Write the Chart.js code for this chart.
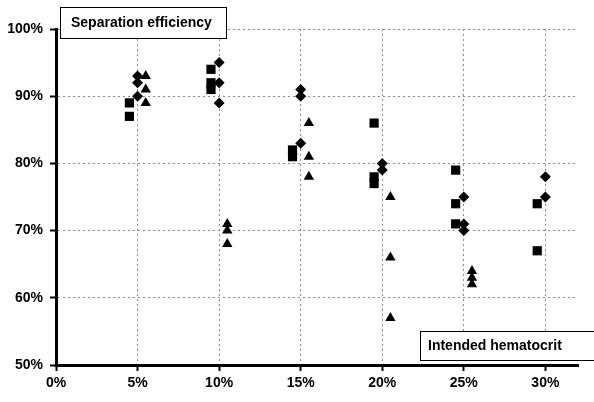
<!DOCTYPE html>
<html>
<head>
<meta charset="utf-8">
<script src="https://cdn.jsdelivr.net/npm/chart.js@4/dist/chart.umd.min.js"></script>
<style>
  html, body { margin: 0; padding: 0; background: #fff; }
  #wrap { width: 594px; height: 402px; position: relative; }
</style>
</head>
<body>
<div id="wrap"><canvas id="c" width="594" height="402"></canvas></div>
<script>
// Intended hematocrit (%) groups and separation efficiency (%) values
const squaresX = [4.5, 4.5, 9.5, 9.5, 9.5, 14.5, 14.5, 19.5, 19.5, 19.5, 24.5, 24.5, 24.5, 29.5, 29.5];
const squaresY = [89, 87, 94, 92, 91, 82, 81, 86, 78, 77, 79, 74, 71, 74, 67];
const diamondsX = [5, 5, 5, 10, 10, 10, 15, 15, 15, 20, 20, 25, 25, 25, 30, 30];
const diamondsY = [93, 92, 90, 95, 92, 89, 91, 90, 83, 80, 79, 75, 71, 70, 78, 75];
const trianglesX = [5.5, 5.5, 5.5, 10.5, 10.5, 10.5, 15.5, 15.5, 15.5, 20.5, 20.5, 20.5, 25.5, 25.5, 25.5];
const trianglesY = [93, 91, 89, 71, 70, 68, 86, 81, 78, 75, 66, 57, 64, 63, 62];
const xTicks = [0, 5, 10, 15, 20, 25, 30];
const yTicks = [50, 60, 70, 80, 90, 100];
const yTitle = 'Separation efficiency';
const xTitle = 'Intended hematocrit';

function pts(xs, ys) { return xs.map((x, i) => ({ x: x, y: ys[i] })); }

const FONT = '"Liberation Sans", Arial, Helvetica, sans-serif';

const boxPlugin = {
  id: 'boxes',
  afterDraw(chart) {
    const ctx = chart.ctx;
    ctx.save();
    ctx.font = 'bold 14px ' + FONT;
    ctx.textBaseline = 'middle';
    ctx.textAlign = 'left';
    function box(x, y, w, h, text, tx) {
      ctx.fillStyle = '#fff';
      ctx.fillRect(x, y, w, h);
      ctx.strokeStyle = '#000';
      ctx.lineWidth = 1;
      ctx.strokeRect(x + 0.5, y + 0.5, w, h);
      ctx.fillStyle = '#000';
      ctx.fillText(text, tx, y + h / 2 + 1);
    }
    box(60, 7, 166, 31, yTitle, 71);
    box(420, 331, 180, 29, xTitle, 428);
    ctx.restore();
  }
};

new Chart(document.getElementById('c'), {
  type: 'scatter',
  data: {
    datasets: [
      { label: 'squares', data: pts(squaresX, squaresY), pointStyle: 'rect', pointRadius: 6.5,
        backgroundColor: '#000', borderColor: '#000', borderWidth: 0 },
      { label: 'diamonds', data: pts(diamondsX, diamondsY), pointStyle: 'rectRot', pointRadius: 5.5,
        backgroundColor: '#000', borderColor: '#000', borderWidth: 0 },
      { label: 'triangles', data: pts(trianglesX, trianglesY), pointStyle: 'triangle', pointRadius: 6,
        backgroundColor: '#000', borderColor: '#000', borderWidth: 0 }
    ]
  },
  options: {
    responsive: false,
    animation: false,
    layout: { padding: { top: 29, right: 16, left: 0, bottom: 0 } },
    plugins: { legend: { display: false }, tooltip: { enabled: false } },
    scales: {
      x: {
        type: 'linear', min: 0, max: 32,
        afterBuildTicks(s) { s.ticks = xTicks.map(v => ({ value: v })); },
        afterFit(s) { s.height = 37; },
        ticks: { color: '#000', padding: 4, maxRotation: 0,
          font: { family: FONT, size: 14, weight: 'bold' },
          callback: v => v + '%' },
        grid: { color: c => c.index === 0 ? 'rgba(0,0,0,0)' : '#8a8a8a', lineWidth: 1,
          drawTicks: true, tickLength: 6, tickColor: '#000', tickWidth: 2, tickBorderDash: [] },
        border: { display: true, color: '#000', width: 3, dash: [2, 3] }
      },
      y: {
        type: 'linear', min: 50, max: 100,
        afterBuildTicks(s) { s.ticks = yTicks.map(v => ({ value: v })); },
        afterFit(s) { s.width = 56; },
        ticks: { color: '#000', padding: 7,
          font: { family: FONT, size: 14, weight: 'bold' },
          callback: v => v + '%' },
        grid: { color: c => c.index === 0 ? 'rgba(0,0,0,0)' : '#8a8a8a', lineWidth: 1,
          drawTicks: true, tickLength: 6, tickColor: '#000', tickWidth: 2, tickBorderDash: [] },
        border: { display: true, color: '#000', width: 3, dash: [2, 3] }
      }
    }
  },
  plugins: [boxPlugin]
});
</script>
</body>
</html>
